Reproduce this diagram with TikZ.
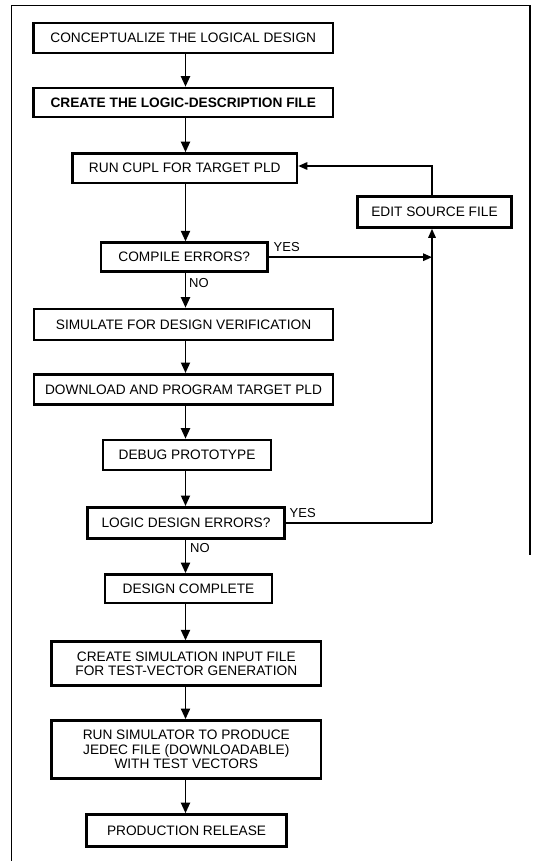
\documentclass[tikz,border=0pt]{standalone}
\usepackage{fontspec}
\setmainfont{Liberation Sans}
\usetikzlibrary{arrows.meta}

\begin{document}
\begin{tikzpicture}[x=1pt,y=-1pt,
  stepbox/.style={draw, line width=2.6pt, inner sep=0pt, align=center,
    font=\fontsize{13.7}{14.5}\selectfont},
  flow/.style={line width=1.9pt, -{Triangle[length=10.5pt,width=9pt]}},
  loop/.style={line width=1.5pt, -{Triangle[length=9pt,width=7.5pt]}},
  loopline/.style={line width=1.5pt},
  tag/.style={font=\fontsize{13}{14}\selectfont, inner sep=0pt, anchor=west},
  frame/.style={line width=1.3pt}]

% page area
\useasboundingbox (0,0) rectangle (534,861);

% outer frame (open at the bottom)
\draw[frame] (11.5,861) -- (11.5,5.5) -- (530,5.5) -- (530,555);

% main column of steps
\node[stepbox, minimum width=299.5pt, minimum height=30pt] (c1) at (183.25,38)
  {CONCEPTUALIZE THE LOGICAL DESIGN};
\node[stepbox, minimum width=299.5pt, minimum height=29pt] (c2) at (183.25,102.5)
  {\bfseries CREATE THE LOGIC-DESCRIPTION FILE};
\node[stepbox, minimum width=224.5pt, minimum height=29.5pt] (run) at (184.75,168.25)
  {RUN CUPL FOR TARGET PLD};
\node[stepbox, minimum width=166.5pt, minimum height=29pt] (cmp) at (184.25,257.2)
  {COMPILE ERRORS?};
\node[stepbox, minimum width=299pt, minimum height=31pt] (sim) at (183.5,324.5)
  {SIMULATE FOR DESIGN VERIFICATION};
\node[stepbox, minimum width=299pt, minimum height=30pt] (dl) at (183.5,389.3)
  {DOWNLOAD AND PROGRAM TARGET PLD};
\node[stepbox, minimum width=168pt, minimum height=30pt] (dbg) at (187,455)
  {DEBUG PROTOTYPE};
\node[stepbox, minimum width=197pt, minimum height=31pt] (lde) at (186,522.8)
  {LOGIC DESIGN ERRORS?};
\node[stepbox, minimum width=167pt, minimum height=28.5pt] (done) at (188.5,588.7)
  {DESIGN COMPLETE};
\node[stepbox, minimum width=269.3pt, minimum height=43.8pt] (csf) at (186.3,663.6)
  {CREATE SIMULATION INPUT FILE\\FOR TEST-VECTOR GENERATION};
\node[stepbox, minimum width=269.3pt, minimum height=58pt] (rsim) at (186.3,749.4)
  {RUN SIMULATOR TO PRODUCE\\JEDEC FILE (DOWNLOADABLE)\\WITH TEST VECTORS};
\node[stepbox, minimum width=199.7pt, minimum height=31.8pt] (prod) at (186.6,830.4)
  {PRODUCTION RELEASE};

% side step
\node[stepbox, minimum width=154pt, minimum height=31pt] (edit) at (434.5,212)
  {EDIT SOURCE FILE};

% guide coordinates
\coordinate (sx) at (185.5,0);
\coordinate (ex) at (432,0);
\coordinate (fbk) at (432,166);

% main flow arrows
\draw[flow] (c1.south -| sx) -- (c2.north -| sx);
\draw[flow] (c2.south -| sx) -- (run.north -| sx);
\draw[flow] (run.south -| sx) -- (cmp.north -| sx);
\draw[flow] (cmp.south -| sx) -- (sim.north -| sx);
\draw[flow] (sim.south -| sx) -- (dl.north -| sx);
\draw[flow] (dl.south -| sx) -- (dbg.north -| sx);
\draw[flow] (dbg.south -| sx) -- (lde.north -| sx);
\draw[flow] (lde.south -| sx) -- (done.north -| sx);
\draw[flow] (done.south -| sx) -- (csf.north -| sx);
\draw[flow] (csf.south -| sx) -- (rsim.north -| sx);
\draw[flow] (rsim.south -| sx) -- (prod.north -| sx);

% error loop back to the compiler
\draw[loop] (edit.north -| fbk) -- (fbk) -- (run.east |- fbk);
\draw[loop] (cmp.east) -- (cmp.east -| ex);
\draw[loopline] (lde.east) -- (lde.east -| ex) coordinate (lx);
\draw[loop] (lx) -- (edit.south -| ex);

% branch labels
\node[tag] (y1) at (273.5,247.5) {YES};
\node[tag] (n1) at (189,283) {NO};
\node[tag] (y2) at (289.5,513) {YES};
\node[tag] (n2) at (190,548) {NO};
\end{tikzpicture}
\end{document}
